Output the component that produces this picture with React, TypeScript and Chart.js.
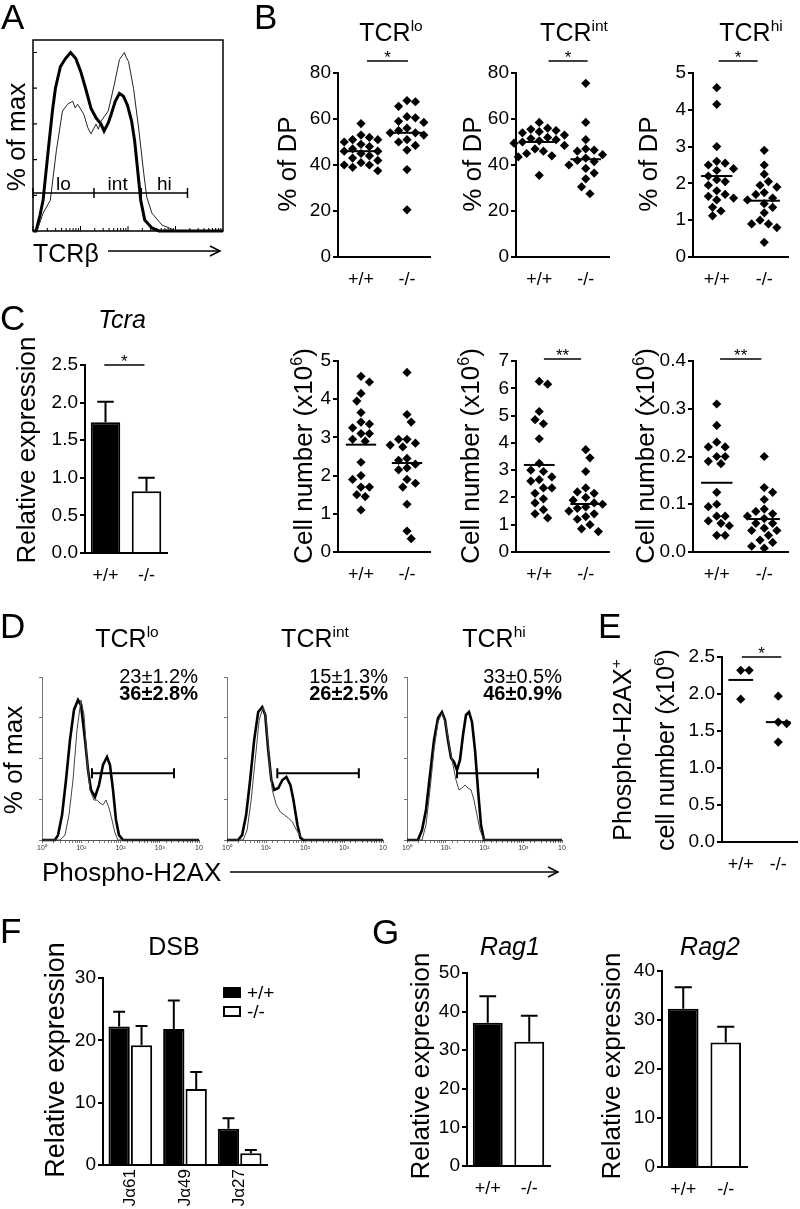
import React, { useEffect, useRef } from "react";
import { Chart, registerables } from "chart.js";

Chart.register(...registerables);

const FONT = "'Liberation Sans', Arial, Helvetica, sans-serif";
Chart.defaults.font.family = FONT;
Chart.defaults.color = "#000";

// ================= DATA =================
const GENOTYPES = ["+/+", "-/-"];

// A: TCRβ histogram (% of max); x = relative channel 0–100 (4 log decades)
const A_KO_X = [0, 1.6, 3.7, 5.3, 8.0, 10.2, 11.8, 14.4, 17.1, 19.8, 22.5, 25.1, 27.8, 30.5, 33.2, 35.8, 37.4, 39.6, 41.2, 43.3, 45.5, 47.6, 49.7, 51.9, 53.5, 55.1, 56.7, 58.8, 62.6, 66.3, 100];
const A_KO_Y = [0, 0, 8.9, 17.2, 45, 67, 80, 92, 96.6, 100, 96.6, 89.4, 79.4, 68.8, 63.3, 59.9, 56, 60.5, 65.5, 72.7, 77.1, 75.5, 70.5, 61.6, 50.5, 33.9, 17.2, 6.1, 1.7, 0, 0];
const A_WT_X = [0, 2.1, 5.3, 9.1, 12.3, 15.5, 18.2, 20.9, 22.2, 23.5, 26.7, 28.8, 30.5, 33.2, 34.4, 35.8, 39.6, 42.8, 45.5, 48.1, 49.2, 50.3, 52.9, 55.6, 58.3, 59.9, 62.6, 67.9, 71.7, 74.9, 100];
const A_WT_Y = [0, 0, 10, 17.2, 45, 67.2, 71, 72.7, 69, 71, 65.5, 58, 54.4, 59.9, 57, 61.6, 67.2, 82.1, 96, 100, 97, 94.9, 79.9, 57.7, 32.2, 18.9, 10, 3.3, 1.7, 0, 0];
const A_GATE_EDGES = [0, 32.1, 57, 81.3];
const A_GATE_LEVEL = 21.3;
const A_GATE_LABELS = ["lo", "int", "hi"];
const A_DECADES = 4;

// B: % of DP
const B_LO_WT = [58, 53, 52, 51, 51, 50, 49, 48, 47, 46, 46, 45, 44, 43, 42, 41, 40, 40, 39, 37.5];
const B_LO_KO = [68, 67.5, 65.5, 61, 60.5, 59, 58.5, 56, 55, 54, 54, 53, 51, 50, 48.5, 46.5, 38, 20.5];
const B_LO_MEANS = [46, 54];
const B_INT_WT = [58.5, 56, 55.5, 55, 54.5, 54, 53, 52, 51.5, 51, 50.5, 50, 49.5, 48.5, 47, 46, 45, 44, 43.5, 35.5];
const B_INT_KO = [75.5, 58.5, 51, 47, 46.5, 46, 44.5, 43, 42, 41.5, 40, 38.5, 36.5, 34, 30.5, 27.5];
const B_INT_MEANS = [50, 42.5];
const B_HI_WT = [4.6, 4.15, 3.0, 2.6, 2.55, 2.5, 2.4, 2.35, 2.2, 2.1, 2.05, 1.95, 1.8, 1.7, 1.65, 1.6, 1.55, 1.35, 1.25, 1.12];
const B_HI_KO = [2.9, 2.5, 2.25, 2.05, 1.95, 1.9, 1.75, 1.7, 1.6, 1.55, 1.45, 1.35, 1.2, 1.0, 0.9, 0.9, 0.8, 0.4];
const B_HI_MEANS = [2.2, 1.53];

// C: Tcra relative expression (mean, SEM) and cell numbers (x10^6)
const TCRA_MEAN = [1.74, 0.82];
const TCRA_SEM = [0.27, 0.18];
const C_LO_WT = [4.6, 4.45, 4.15, 3.95, 3.65, 3.4, 3.35, 3.25, 3.1, 3.1, 2.95, 2.9, 2.35, 2.0, 1.9, 1.7, 1.7, 1.5, 1.45, 1.1];
const C_LO_KO = [4.7, 3.6, 3.4, 2.95, 2.95, 2.85, 2.8, 2.75, 2.45, 2.4, 2.3, 2.2, 2.15, 1.9, 1.8, 1.7, 1.25, 0.55, 0.35];
const C_LO_MEANS = [2.81, 2.33];
const C_INT_WT = [6.25, 6.15, 5.15, 4.85, 4.7, 4.15, 3.25, 3.0, 2.95, 2.75, 2.65, 2.6, 2.35, 2.35, 2.15, 1.95, 1.8, 1.55, 1.4, 1.25];
const C_INT_KO = [3.75, 3.45, 2.95, 2.35, 2.2, 2.15, 2.0, 1.9, 1.8, 1.75, 1.65, 1.6, 1.5, 1.4, 1.3, 1.2, 1.0, 0.85, 0.75];
const C_INT_MEANS = [3.19, 1.76];
const C_HI_WT = [0.31, 0.265, 0.23, 0.22, 0.22, 0.2, 0.2, 0.19, 0.185, 0.125, 0.1, 0.095, 0.075, 0.075, 0.065, 0.06, 0.055, 0.035, 0.035];
const C_HI_KO = [0.2, 0.135, 0.125, 0.11, 0.09, 0.085, 0.08, 0.075, 0.07, 0.06, 0.06, 0.05, 0.045, 0.045, 0.035, 0.025, 0.02, 0.012, 0.008];
const C_HI_MEANS = [0.145, 0.069];

// D: Phospho-H2AX histograms (x = fluorescence, log; y = % of max)
const D_LO_KO_X = [1, 2.14, 2.56, 3.24, 4.09, 5.16, 6.53, 8.26, 9.86, 12.5, 14.9, 17.7, 22.4, 28.3, 35.8, 45.3, 54, 64.4, 76.8, 91.6, 116, 10000];
const D_LO_KO_Y = [0, 0, 3, 15.3, 36.8, 61.3, 79.8, 85.9, 82.8, 61.3, 42.9, 30.7, 26.4, 33.7, 46, 50.9, 46, 30.7, 12.3, 3, 0, 0];
const D_LO_WT_X = [1, 2.87, 3.85, 4.87, 6.16, 7.79, 9.86, 11.8, 14, 16.7, 21.1, 25.2, 30.1, 35.8, 42.7, 50.9, 60.7, 72.4, 86.3, 10000];
const D_LO_WT_Y = [0, 0, 3, 15.3, 36.8, 67.5, 85.9, 76.7, 49.1, 30.7, 24.5, 24.5, 22.7, 21.5, 24.5, 19.6, 12.3, 4.3, 0, 0];
const D_INT_KO_X = [1, 1.92, 2.44, 3.09, 3.92, 4.97, 6.31, 8.0, 9.57, 11.4, 13.7, 16.3, 20.7, 26.3, 33.3, 42.3, 50.5, 64, 76.5, 91.4, 10000];
const D_INT_KO_Y = [0, 0, 3, 15.3, 36.8, 61.3, 78.5, 81.6, 76.7, 55.2, 36.8, 30.7, 31.9, 36.8, 38.7, 33.7, 24.5, 9.2, 1.2, 0, 0];
const D_INT_WT_X = [1, 2.59, 3.28, 4.16, 5.28, 6.7, 8.49, 10.1, 12.1, 14.5, 18.4, 23.3, 29.6, 37.5, 47.6, 60.4, 76.5, 97.1, 10000];
const D_INT_WT_Y = [0, 0, 6.1, 24.5, 49.1, 73.6, 81.6, 73.6, 49.1, 30.7, 21.5, 17.2, 15.3, 13.5, 11, 6.1, 2.5, 0, 0];
const D_HI_KO_X = [1, 1.92, 2.44, 3.09, 3.92, 4.97, 6.31, 8.0, 9.57, 11.4, 13.7, 16.3, 19.5, 23.3, 27.9, 33.3, 39.8, 47.6, 56.9, 68, 81.2, 97.1, 10000];
const D_HI_KO_Y = [0, 0, 6.1, 18.4, 39.9, 61.3, 74.8, 78.5, 73.6, 61.3, 50.3, 47.9, 42.9, 49.1, 64.4, 76.7, 78.5, 72.4, 55.2, 30.7, 9.2, 0, 0];
const D_HI_WT_X = [1, 2.44, 3.09, 3.92, 4.97, 6.31, 8.0, 10.1, 12.9, 15.4, 18.4, 22, 26.3, 31.4, 37.5, 44.9, 53.6, 64, 76.5, 97.1, 10000];
const D_HI_WT_Y = [0, 0, 9.2, 30.7, 55.2, 72.4, 77.9, 70.6, 55.2, 46, 36.8, 30.7, 31.9, 33.7, 31.9, 30.7, 24.5, 15.3, 6.1, 0, 0];
const D_GATE_LEVEL = 41;
const D_GATES = [[18.8, 2307], [19.5, 2400], [19.5, 2400]];
const D_PCT_WT = ["23±1.2%", "15±1.3%", "33±0.5%"];
const D_PCT_KO = ["36±2.8%", "26±2.5%", "46±0.9%"];
const LOG_SUP = ["⁰", "¹", "²", "³", "⁴"];

// E: Phospho-H2AX+ cell number (x10^6)
const E_WT = [2.32, 2.32, 1.93];
const E_KO = [1.97, 1.62, 1.6, 1.35];
const E_MEANS = [2.19, 1.62];

// F: DSB relative expression
const F_CATS = ["Jα61", "Jα49", "Jα27"];
const F_WT = [22.2, 21.8, 5.8];
const F_WT_SEM = [2.4, 4.6, 1.7];
const F_KO = [19.2, 12.2, 1.9];
const F_KO_SEM = [3.1, 2.7, 0.5];

// G: Rag1 / Rag2 relative expression
const RAG1_MEAN = [37.1, 32.2];
const RAG1_SEM = [6.9, 6.7];
const RAG2_MEAN = [32.3, 25.4];
const RAG2_SEM = [4.4, 3.2];

// ================= HELPERS =================
const pts = (xs: number[], ys: number[]) => xs.map((x, i) => ({ x, y: ys[i] }));

function decor(cfg: any) {
  return {
    id: "decor",
    afterDatasetsDraw(chart: any) {
      const { ctx, chartArea: ca } = chart;
      const xs = chart.scales.x;
      const ys = chart.scales.y;
      ctx.save();
      ctx.strokeStyle = "#000";
      ctx.fillStyle = "#000";
      if (cfg.errors) {
        ctx.lineWidth = 2;
        cfg.errors.forEach((sems: number[], di: number) => {
          const meta = chart.getDatasetMeta(di);
          meta.data.forEach((bar: any, j: number) => {
            const val = chart.data.datasets[di].data[j] + sems[j];
            const top = ys.getPixelForValue(val);
            const half = bar.width * 0.28;
            ctx.beginPath();
            ctx.moveTo(bar.x, bar.y);
            ctx.lineTo(bar.x, top);
            ctx.moveTo(bar.x - half, top);
            ctx.lineTo(bar.x + half, top);
            ctx.stroke();
          });
        });
      }
      if (cfg.frame) {
        ctx.lineWidth = 1.5;
        ctx.strokeRect(ca.left, ca.top, ca.right - ca.left, ca.bottom - ca.top);
      }
      if (cfg.yTicksIn) {
        ctx.lineWidth = 1.2;
        ctx.beginPath();
        cfg.yTicksIn.values.forEach((v: number) => {
          const py = ys.getPixelForValue(v);
          ctx.moveTo(ca.left, py);
          ctx.lineTo(ca.left + cfg.yTicksIn.len, py);
        });
        ctx.stroke();
      }
      if (cfg.logTicksIn) {
        // log-decade tick marks along the inside of the bottom axis
        const n = cfg.logTicksIn.decades;
        const per = (xs.max - xs.min) / n;
        ctx.lineWidth = 1;
        ctx.beginPath();
        for (let d = 0; d < n; d++) {
          for (let m = 1; m <= 9; m++) {
            const v = xs.min + per * (d + Math.log10(m));
            const px = xs.getPixelForValue(v);
            const len = m === 1 ? 5 : 3;
            ctx.moveTo(px, ca.bottom);
            ctx.lineTo(px, ca.bottom - len);
          }
        }
        ctx.stroke();
      }
      if (cfg.gate) {
        const g = cfg.gate;
        const py = ys.getPixelForValue(g.y);
        const gx = g.edges.map((e: number) => xs.getPixelForValue(e));
        ctx.lineWidth = g.width || 1.5;
        ctx.beginPath();
        ctx.moveTo(gx[0], py);
        ctx.lineTo(gx[gx.length - 1], py);
        gx.forEach((x: number) => {
          ctx.moveTo(x, py - g.tick);
          ctx.lineTo(x, py + g.tick);
        });
        ctx.stroke();
        if (g.labels) {
          ctx.font = `${g.font}px ${FONT}`;
          ctx.textAlign = "center";
          ctx.textBaseline = "alphabetic";
          g.labels.forEach((t: string, i: number) => ctx.fillText(t, (gx[i] + gx[i + 1]) / 2, py - 3));
        }
      }
      if (cfg.sig) {
        const s = cfg.sig;
        const py = ca.top - s.dy;
        const x1 = xs.getPixelForValue(s.x1);
        const x2 = xs.getPixelForValue(s.x2);
        ctx.lineWidth = 1.5;
        ctx.beginPath();
        ctx.moveTo(x1, py);
        ctx.lineTo(x2, py);
        ctx.stroke();
        ctx.font = `17px ${FONT}`;
        ctx.textAlign = "center";
        ctx.textBaseline = "alphabetic";
        ctx.fillText(s.text, (x1 + x2) / 2, py + 2);
      }
      ctx.restore();
    },
  };
}

function baseOptions(scales: any, extra: any = {}) {
  return {
    responsive: false,
    animation: false,
    devicePixelRatio: 1,
    events: [],
    plugins: { legend: { display: false }, tooltip: { enabled: false }, title: { display: false } },
    scales,
    ...extra,
  };
}

function valueY(yW: number, min: number, max: number, step: number, dec?: number) {
  return {
    type: "linear",
    min,
    max,
    ticks: {
      stepSize: step,
      font: { size: 19 },
      color: "#000",
      padding: 2,
      callback: (v: number) => (dec != null ? Number(v).toFixed(dec) : String(Math.round(v * 1000) / 1000)),
    },
    grid: { display: true, drawOnChartArea: false, drawTicks: true, tickLength: 5, lineWidth: 2, color: "#000" },
    border: { display: true, width: 2, color: "#000" },
    afterFit: (s: any) => {
      s.width = yW;
    },
  };
}

function catLinearX(xH: number) {
  return {
    type: "linear",
    min: 0.5,
    max: 2.5,
    afterBuildTicks: (s: any) => {
      s.ticks = [{ value: 1 }, { value: 2 }];
    },
    ticks: { font: { size: 18 }, color: "#000", padding: 4, autoSkip: false, maxRotation: 0, callback: (_v: any, i: number) => GENOTYPES[i] },
    grid: { display: false },
    border: { display: true, width: 2, color: "#000" },
    afterFit: (s: any) => {
      s.height = xH;
    },
  };
}

// beeswarm layout: spreads dots of one group sideways so they do not pile up
function swarm(values: number[], cat: number, chart: any) {
  const xs = chart.scales.x;
  const ys = chart.scales.y;
  const cx = xs.getPixelForValue(cat);
  const minD = 8.2;
  const step = 4.2;
  const placed: { x: number; y: number }[] = [];
  const order = values.map((_, i) => i).sort((a, b) => values[b] - values[a]);
  const out: any[] = new Array(values.length);
  let side = 1;
  for (const i of order) {
    const py = ys.getPixelForValue(values[i]);
    let px = cx;
    for (let k = 0; k < 40; k++) {
      const off = k === 0 ? 0 : Math.ceil(k / 2) * step * (k % 2 ? side : -side);
      const cand = cx + off;
      if (placed.every((p) => Math.hypot(p.x - cand, p.y - py) >= minD)) {
        px = cand;
        if (k > 0) side = -side;
        break;
      }
    }
    placed.push({ x: px, y: py });
    out[i] = { x: xs.getValueForPixel(px), y: values[i] };
  }
  return out;
}

type Spec = { wt: number[]; ko: number[]; means: number[]; max: number; step: number; dec?: number; sig?: any };

function scatterBuild(spec: Spec) {
  return (yW: number, xH: number) => {
    const dot = (label: string, vals: number[], cat: number) => ({
      label,
      data: vals.map((v) => ({ x: cat, y: v })),
      pointStyle: "rectRot",
      pointRadius: 4.6,
      backgroundColor: "#000",
      borderColor: "#000",
      borderWidth: 0,
      showLine: false,
      clip: false,
    });
    const mean = (label: string, v: number, cat: number) => ({
      label,
      data: [
        { x: cat - 0.33, y: v },
        { x: cat + 0.33, y: v },
      ],
      showLine: true,
      borderColor: "#000",
      borderWidth: 2,
      pointRadius: 0,
      clip: false,
    });
    const config = {
      type: "scatter",
      data: {
        datasets: [
          dot("+/+", spec.wt, 1),
          dot("-/-", spec.ko, 2),
          mean("+/+ mean", spec.means[0], 1),
          mean("-/- mean", spec.means[1], 2),
        ],
      },
      options: baseOptions({ x: catLinearX(xH), y: valueY(yW, 0, spec.max, spec.step, spec.dec) }),
      plugins: [decor({ sig: spec.sig })],
    };
    const after = (chart: any) => {
      chart.data.datasets[0].data = swarm(spec.wt, 1, chart);
      chart.data.datasets[1].data = swarm(spec.ko, 2, chart);
      chart.update();
    };
    return { config, after };
  };
}

function barBuild(
  labels: string[],
  sets: { label: string; values: number[]; sems: number[]; color: any }[],
  max: number,
  step: number,
  dec: number | undefined,
  barPct: number,
  catPct: number,
  rotate: boolean,
  sig?: any
) {
  return (yW: number, xH: number) => {
    const config = {
      type: "bar",
      data: {
        labels,
        datasets: sets.map((s) => ({
          label: s.label,
          data: s.values,
          backgroundColor: s.color,
          borderColor: "#000",
          borderWidth: 2,
          barPercentage: barPct,
          categoryPercentage: catPct,
        })),
      },
      options: baseOptions({
        x: {
          type: "category",
          offset: true,
          grid: { display: false },
          border: { display: true, width: 2, color: "#000" },
          ticks: {
            font: { size: rotate ? 17 : 18 },
            color: "#000",
            padding: rotate ? -4 : 4,
            autoSkip: false,
            minRotation: rotate ? 90 : 0,
            maxRotation: rotate ? 90 : 0,
          },
          afterFit: (s: any) => {
            s.height = xH;
          },
        },
        y: valueY(yW, 0, max, step, dec),
      }),
      plugins: [decor({ errors: sets.map((s) => s.sems), sig })],
    };
    return { config };
  };
}

function lineSet(label: string, data: any[], width: number, color: string) {
  return { label, data, borderColor: color, borderWidth: width, pointRadius: 0, fill: false, tension: 0, clip: false };
}

function buildA(yW: number, xH: number) {
  const config = {
    type: "line",
    data: {
      datasets: [lineSet("+/+", pts(A_WT_X, A_WT_Y), 1, "#222"), lineSet("-/-", pts(A_KO_X, A_KO_Y), 3, "#000")],
    },
    options: baseOptions({
      x: {
        type: "linear",
        min: 0,
        max: 100,
        ticks: { display: false },
        grid: { display: false },
        border: { display: false },
        afterFit: (s: any) => {
          s.height = xH;
        },
      },
      y: {
        type: "linear",
        min: 0,
        max: 107,
        ticks: { display: false },
        grid: { display: false },
        border: { display: false },
        afterFit: (s: any) => {
          s.width = yW;
        },
      },
    }),
    plugins: [
      decor({
        frame: true,
        yTicksIn: { values: [0, 20, 40, 60, 80, 100], len: 4 },
        logTicksIn: { decades: A_DECADES },
        gate: { y: A_GATE_LEVEL, edges: A_GATE_EDGES, labels: A_GATE_LABELS, tick: 5, font: 19, width: 1.5 },
      }),
    ],
  };
  return { config };
}

function buildD(wt: any[], ko: any[], gate: number[]) {
  return (yW: number, xH: number) => {
    const config = {
      type: "line",
      data: { datasets: [lineSet("+/+", wt, 1, "#444"), lineSet("-/-", ko, 2.6, "#000")] },
      options: baseOptions({
        x: {
          type: "logarithmic",
          min: 1,
          max: 10000,
          ticks: {
            autoSkip: false,
            maxRotation: 0,
            minRotation: 0,
            font: { size: 7 },
            color: "#333",
            padding: 1,
            callback: (v: number) => {
              const e = Math.log10(v);
              if (Math.abs(e - Math.round(e)) > 1e-6) return "";
              const r = Math.round(e);
              return r === 4 ? "10" : "10" + LOG_SUP[r];
            },
          },
          grid: { display: true, drawOnChartArea: false, drawTicks: true, tickLength: 3, color: "#777", lineWidth: 1 },
          border: { display: true, color: "#555", width: 1 },
          afterFit: (s: any) => {
            s.height = xH;
          },
        },
        y: {
          type: "linear",
          min: 0,
          max: 100,
          ticks: { display: false, stepSize: 25 },
          grid: { display: true, drawOnChartArea: false, drawTicks: true, tickLength: 3, color: "#777", lineWidth: 1 },
          border: { display: true, color: "#777", width: 1 },
          afterFit: (s: any) => {
            s.width = yW;
          },
        },
      }),
      plugins: [decor({ gate: { y: D_GATE_LEVEL, edges: gate, tick: 5, width: 2 } })],
    };
    return { config };
  };
}

type Rect = { l: number; t: number; r: number; b: number };

function ChartBox({ plot, ext, build }: { plot: Rect; ext: Rect; build: (yW: number, xH: number) => any }) {
  const ref = useRef<HTMLCanvasElement>(null);
  const x = plot.l - ext.l;
  const y = plot.t - ext.t;
  const w = plot.r - plot.l + ext.l + ext.r;
  const h = plot.b - plot.t + ext.t + ext.b;
  useEffect(() => {
    const { config, after } = build(ext.l, ext.b);
    config.options.layout = { padding: { left: 0, top: ext.t, right: ext.r, bottom: 0 }, autoPadding: false };
    const chart = new Chart(ref.current as HTMLCanvasElement, config as any);
    if (after) after(chart);
    return () => chart.destroy();
  }, []);
  return <canvas ref={ref} width={w} height={h} style={{ position: "absolute", left: x, top: y, width: w, height: h }} />;
}

function Txt({ x, base, size = 25, align = "left", bold = false, italic = false, children }: any) {
  const tx = align === "center" ? "-50%" : align === "right" ? "-100%" : "0";
  return (
    <div
      style={{
        position: "absolute",
        left: x,
        top: base - 0.8465 * size,
        fontSize: size,
        lineHeight: 1,
        fontFamily: FONT,
        fontWeight: bold ? 700 : 400,
        fontStyle: italic ? "italic" : "normal",
        whiteSpace: "nowrap",
        transform: `translateX(${tx})`,
        color: "#000",
      }}
    >
      {children}
    </div>
  );
}

function VTxt({ x, y, size = 26, children }: any) {
  return (
    <div
      style={{
        position: "absolute",
        left: x,
        top: y,
        fontSize: size,
        lineHeight: 1,
        fontFamily: FONT,
        whiteSpace: "nowrap",
        transform: "translate(-50%, -50%) rotate(-90deg)",
        color: "#000",
      }}
    >
      {children}
    </div>
  );
}

const Sup = ({ children }: any) => <span style={{ fontSize: "0.62em", position: "relative", top: "-0.62em" }}>{children}</span>;

// ================= APP =================
export default function App() {
  useEffect(() => {
    document.body.style.margin = "0";
    document.body.style.overflow = "hidden";
  }, []);

  const extB = { l: 45, t: 35, r: 6, b: 30 };
  const extC = { l: 42, t: 30, r: 6, b: 30 };
  const extD = { l: 8, t: 10, r: 10, b: 16 };
  const extG = { l: 42, t: 16, r: 6, b: 30 };

  return (
    <div style={{ position: "absolute", left: 0, top: 0, width: 800, height: 1209, background: "#fff", overflow: "hidden", fontFamily: FONT }}>
      {/* A */}
      <ChartBox plot={{ l: 33, t: 40, r: 223, b: 231 }} ext={{ l: 20, t: 10, r: 6, b: 6 }} build={buildA} />

      {/* B */}
      <ChartBox
        plot={{ l: 338, t: 73, r: 430, b: 257 }}
        ext={extB}
        build={scatterBuild({ wt: B_LO_WT, ko: B_LO_KO, means: B_LO_MEANS, max: 80, step: 20, sig: { x1: 1.13, x2: 2.02, dy: 12, text: "*" } })}
      />
      <ChartBox
        plot={{ l: 516, t: 73, r: 609, b: 257 }}
        ext={extB}
        build={scatterBuild({ wt: B_INT_WT, ko: B_INT_KO, means: B_INT_MEANS, max: 80, step: 20, sig: { x1: 1.2, x2: 2.04, dy: 12, text: "*" } })}
      />
      <ChartBox
        plot={{ l: 693, t: 73, r: 788, b: 257 }}
        ext={extB}
        build={scatterBuild({ wt: B_HI_WT, ko: B_HI_KO, means: B_HI_MEANS, max: 5, step: 1, sig: { x1: 1.04, x2: 1.86, dy: 12, text: "*" } })}
      />

      {/* C */}
      <ChartBox
        plot={{ l: 85, t: 365, r: 167, b: 553 }}
        ext={{ l: 42, t: 30, r: 6, b: 30 }}
        build={barBuild(GENOTYPES, [{ label: "Tcra", values: TCRA_MEAN, sems: TCRA_SEM, color: ["#000", "#fff"] }], 2.5, 0.5, 1, 0.72, 1, false, {
          x1: -0.03,
          x2: 0.95,
          dy: 0,
          text: "*",
        })}
      />
      <ChartBox plot={{ l: 338, t: 361, r: 430, b: 552 }} ext={extC} build={scatterBuild({ wt: C_LO_WT, ko: C_LO_KO, means: C_LO_MEANS, max: 5, step: 1 })} />
      <ChartBox
        plot={{ l: 516, t: 361, r: 609, b: 552 }}
        ext={extC}
        build={scatterBuild({ wt: C_INT_WT, ko: C_INT_KO, means: C_INT_MEANS, max: 7, step: 1, sig: { x1: 1.1, x2: 1.9, dy: 2, text: "**" } })}
      />
      <ChartBox
        plot={{ l: 693, t: 361, r: 788, b: 552 }}
        ext={extC}
        build={scatterBuild({ wt: C_HI_WT, ko: C_HI_KO, means: C_HI_MEANS, max: 0.4, step: 0.1, dec: 1, sig: { x1: 1.07, x2: 1.94, dy: 2, text: "**" } })}
      />

      {/* D */}
      <ChartBox plot={{ l: 42, t: 677, r: 199, b: 840 }} ext={extD} build={buildD(pts(D_LO_WT_X, D_LO_WT_Y), pts(D_LO_KO_X, D_LO_KO_Y), D_GATES[0])} />
      <ChartBox plot={{ l: 227, t: 677, r: 383, b: 840 }} ext={extD} build={buildD(pts(D_INT_WT_X, D_INT_WT_Y), pts(D_INT_KO_X, D_INT_KO_Y), D_GATES[1])} />
      <ChartBox plot={{ l: 407, t: 677, r: 562, b: 840 }} ext={extD} build={buildD(pts(D_HI_WT_X, D_HI_WT_Y), pts(D_HI_KO_X, D_HI_KO_Y), D_GATES[2])} />

      {/* E */}
      <ChartBox
        plot={{ l: 722, t: 657, r: 797, b: 842 }}
        ext={{ l: 40, t: 30, r: 3, b: 30 }}
        build={scatterBuild({ wt: E_WT, ko: E_KO, means: E_MEANS, max: 2.5, step: 0.5, dec: 1, sig: { x1: 1.03, x2: 2.08, dy: 0, text: "*" } })}
      />

      {/* F */}
      <ChartBox
        plot={{ l: 103, t: 978, r: 267, b: 1165 }}
        ext={{ l: 42, t: 20, r: 10, b: 44 }}
        build={barBuild(
          F_CATS,
          [
            { label: "+/+", values: F_WT, sems: F_WT_SEM, color: "#000" },
            { label: "-/-", values: F_KO, sems: F_KO_SEM, color: "#fff" },
          ],
          30,
          10,
          undefined,
          0.95,
          0.82,
          true
        )}
      />

      {/* G */}
      <ChartBox
        plot={{ l: 467, t: 973, r: 550, b: 1166 }}
        ext={extG}
        build={barBuild(GENOTYPES, [{ label: "Rag1", values: RAG1_MEAN, sems: RAG1_SEM, color: ["#000", "#fff"] }], 50, 10, undefined, 0.72, 1, false)}
      />
      <ChartBox
        plot={{ l: 662, t: 971, r: 747, b: 1167 }}
        ext={extG}
        build={barBuild(GENOTYPES, [{ label: "Rag2", values: RAG2_MEAN, sems: RAG2_SEM, color: ["#000", "#fff"] }], 40, 10, undefined, 0.72, 1, false)}
      />

      {/* Arrows */}
      <svg style={{ position: "absolute", left: 0, top: 0 }} width={800} height={1209}>
        <line x1={108} y1={251} x2={220} y2={251} stroke="#000" strokeWidth={1.5} />
        <polyline points="210,246 220,251 210,256" fill="none" stroke="#000" strokeWidth={1.5} />
        <line x1={230} y1={872} x2={558} y2={872} stroke="#000" strokeWidth={1.5} />
        <polyline points="548,867 558,872 548,877" fill="none" stroke="#000" strokeWidth={1.5} />
      </svg>

      {/* Panel letters */}
      <Txt x={1} base={29} size={35}>A</Txt>
      <Txt x={254} base={29} size={35}>B</Txt>
      <Txt x={0} base={330} size={35}>C</Txt>
      <Txt x={0} base={638} size={35}>D</Txt>
      <Txt x={598} base={638} size={35}>E</Txt>
      <Txt x={0} base={943} size={35}>F</Txt>
      <Txt x={372} base={944} size={35}>G</Txt>

      {/* A texts */}
      <VTxt x={16} y={137} size={26}>% of max</VTxt>
      <Txt x={33} base={262} size={25}>TCRβ</Txt>

      {/* B texts */}
      <Txt x={391} base={41} size={25} align="center">TCR<Sup>lo</Sup></Txt>
      <Txt x={574} base={41} size={25} align="center">TCR<Sup>int</Sup></Txt>
      <Txt x={751} base={41} size={25} align="center">TCR<Sup>hi</Sup></Txt>
      <VTxt x={287} y={164} size={26}>% of DP</VTxt>
      <VTxt x={472} y={164} size={26}>% of DP</VTxt>
      <VTxt x={648} y={164} size={26}>% of DP</VTxt>

      {/* C texts */}
      <Txt x={122} base={328} size={25} align="center" italic>Tcra</Txt>
      <VTxt x={26} y={450} size={26}>Relative expression</VTxt>
      <VTxt x={303} y={456} size={26}>Cell number (x10<Sup>6</Sup>)</VTxt>
      <VTxt x={470} y={456} size={26}>Cell number (x10<Sup>6</Sup>)</VTxt>
      <VTxt x={645} y={456} size={26}>Cell number (x10<Sup>6</Sup>)</VTxt>

      {/* D texts */}
      <Txt x={127} base={647} size={25} align="center">TCR<Sup>lo</Sup></Txt>
      <Txt x={315} base={647} size={25} align="center">TCR<Sup>int</Sup></Txt>
      <Txt x={494} base={647} size={25} align="center">TCR<Sup>hi</Sup></Txt>
      <Txt x={198} base={683} size={20} align="right">{D_PCT_WT[0]}</Txt>
      <Txt x={198} base={700} size={20} align="right" bold>{D_PCT_KO[0]}</Txt>
      <Txt x={388} base={683} size={20} align="right">{D_PCT_WT[1]}</Txt>
      <Txt x={388} base={700} size={20} align="right" bold>{D_PCT_KO[1]}</Txt>
      <Txt x={562} base={683} size={20} align="right">{D_PCT_WT[2]}</Txt>
      <Txt x={562} base={700} size={20} align="right" bold>{D_PCT_KO[2]}</Txt>
      <VTxt x={13} y={760} size={26}>% of max</VTxt>
      <Txt x={42} base={881} size={26}>Phospho-H2AX</Txt>

      {/* E texts */}
      <VTxt x={622} y={750} size={25}>Phospho-H2AX<Sup>+</Sup></VTxt>
      <VTxt x={665} y={750} size={25}>cell number (x10<Sup>6</Sup>)</VTxt>

      {/* F texts */}
      <Txt x={174} base={955} size={25} align="center">DSB</Txt>
      <VTxt x={55} y={1060} size={27}>Relative expression</VTxt>
      <div style={{ position: "absolute", left: 223, top: 987, width: 18, height: 11, background: "#000" }} />
      <Txt x={247} base={999} size={19}>+/+</Txt>
      <div style={{ position: "absolute", left: 223, top: 1006, width: 18, height: 11, border: "2px solid #000", boxSizing: "border-box", background: "#fff" }} />
      <Txt x={247} base={1018} size={19}>-/-</Txt>

      {/* G texts */}
      <Txt x={510} base={955} size={25} align="center" italic>Rag1</Txt>
      <Txt x={710} base={955} size={25} align="center" italic>Rag2</Txt>
      <VTxt x={420} y={1066} size={26}>Relative expression</VTxt>
      <VTxt x={611} y={1066} size={26}>Relative expression</VTxt>
    </div>
  );
}
